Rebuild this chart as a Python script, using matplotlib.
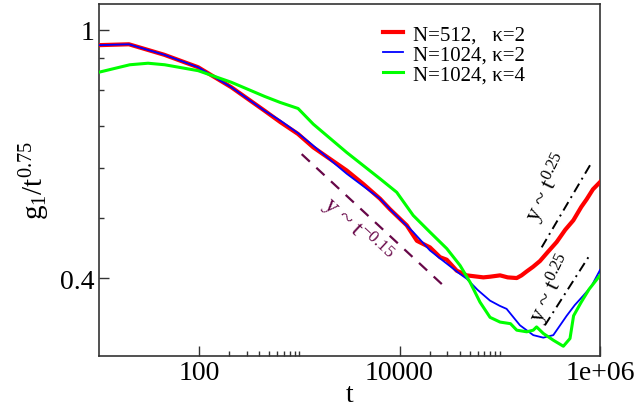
import matplotlib
matplotlib.use("Agg")
import matplotlib.pyplot as plt
from matplotlib.ticker import FixedLocator, FixedFormatter, NullFormatter

plt.rcParams['font.family'] = ['Liberation Serif', 'DejaVu Serif']
plt.rcParams['mathtext.fontset'] = 'custom'
plt.rcParams['mathtext.rm'] = 'Liberation Serif'
plt.rcParams['mathtext.it'] = 'Liberation Serif:italic'
plt.rcParams['mathtext.bf'] = 'Liberation Serif:bold'

# ---- data ----
red_t = [10, 20, 45, 98, 210, 450, 650, 970, 1380, 2970, 4350, 6400, 8000, 11800,
         14900, 20100, 25400, 29600, 37200, 46800, 68600, 80000, 100700, 120000,
         147700, 165000, 186000, 215000, 252000, 300000, 370000, 450000, 542000,
         650000, 736000, 850000, 1000000]
red_y = [0.945, 0.948, 0.912, 0.871, 0.809, 0.742, 0.711, 0.681, 0.648, 0.595, 0.566,
         0.536, 0.516, 0.486, 0.459, 0.448, 0.432, 0.428, 0.411, 0.404, 0.401, 0.402,
         0.404, 0.401, 0.400, 0.404, 0.410, 0.417, 0.426, 0.440, 0.457, 0.478, 0.495,
         0.520, 0.535, 0.555, 0.570]

blue_t = [10, 20, 45, 98, 210, 450, 650, 970, 1380, 2970, 6400, 8000, 13700, 20100,
          25400, 40200, 46800, 60000, 80000, 100000, 117000, 159000, 216000, 272000,
          342000, 400000, 465000, 560000, 683000, 820000, 1000000]
blue_y = [0.945, 0.948, 0.912, 0.871, 0.809, 0.742, 0.715, 0.683, 0.652, 0.588, 0.536,
          0.516, 0.474, 0.443, 0.430, 0.406, 0.399, 0.383, 0.368, 0.361, 0.357, 0.336,
          0.324, 0.321, 0.324, 0.336, 0.348, 0.362, 0.375, 0.388, 0.412]

green_t = [10, 20.4, 31, 45.5, 98, 210, 452, 643, 973, 1380, 2970, 6400, 9380, 13700,
           20100, 29600, 40200, 50500, 63500, 80000, 100700, 128000, 147700, 186000,
           216000, 233000, 272000, 342000, 431000, 502000, 545000, 650000, 780000,
           1000000]
green_y = [0.855, 0.879, 0.884, 0.879, 0.860, 0.824, 0.782, 0.765, 0.748, 0.706, 0.636,
           0.577, 0.549, 0.504, 0.474, 0.446, 0.419, 0.394, 0.366, 0.346, 0.340, 0.338,
           0.330, 0.328, 0.330, 0.334, 0.326, 0.318, 0.311, 0.320, 0.348, 0.366, 0.384,
           0.404]

labels = ["N=512,   \u03ba=2", "N=1024, \u03ba=2", "N=1024, \u03ba=4"]

# guide lines (endpoints)
guide_a_t = [1057, 28400]
guide_a_y = [0.632, 0.387]
guide_b_t = [262000, 826000]
guide_b_y = [0.448, 0.613]
guide_c_t = [282000, 766000]
guide_c_y = [0.336, 0.432]

xtick_vals = [100, 10000, 1000000]
xtick_labels = ["100", "10000", "1e+06"]
ytick_vals = [0.4, 1.0]
ytick_labels = ["0.4", "1"]

fig = plt.figure(figsize=(6.36, 4.10), dpi=100)
ax = fig.add_axes([0.1553, 0.1293, 0.7881, 0.8585])

ax.plot(red_t, red_y, color='#ff0000', lw=3.0, label=labels[0], zorder=3)
ax.plot(blue_t, blue_y, color='#0000ff', lw=1.3, label=labels[1], zorder=4)
ax.plot(green_t, green_y, color='#00ff00', lw=2.2, label=labels[2], zorder=5)

purple = '#670748'
ax.plot(guide_a_t, guide_a_y, color=purple, lw=1.6, dashes=(5, 4), zorder=2)
ax.plot(guide_b_t, guide_b_y, color='black', lw=1.4, dashes=(5, 2.5, 1, 2.5), zorder=2)
ax.plot(guide_c_t, guide_c_y, color='black', lw=1.4, dashes=(5, 2.5, 1, 2.5), zorder=2)

ax.text(3770, 0.478, r'y ~ t$^{-0.15}$', color=purple, fontsize=17.5, rotation=-43,
        ha='center', va='center', rotation_mode='anchor')
ax.text(303000, 0.560, r'y ~ t$^{0.25}$', color='black', fontsize=17, rotation=64,
        ha='center', va='center', rotation_mode='anchor')
ax.text(332000, 0.386, r'y ~ t$^{0.25}$', color='black', fontsize=17, rotation=64,
        ha='center', va='center', rotation_mode='anchor')

ax.set_xscale('log')
ax.set_yscale('log')
ax.set_xlim(10, 1e6)
ax.set_ylim(0.3, 1.1)

ax.xaxis.set_major_locator(FixedLocator(xtick_vals))
ax.xaxis.set_major_formatter(FixedFormatter(xtick_labels))
ax.xaxis.set_minor_locator(FixedLocator([200, 300, 400, 500, 600, 700, 800, 900, 1000,
                                         20000, 30000, 40000, 50000, 60000, 70000,
                                         80000, 90000, 100000]))
ax.xaxis.set_minor_formatter(NullFormatter())
ax.yaxis.set_major_locator(FixedLocator(ytick_vals))
ax.yaxis.set_major_formatter(FixedFormatter(ytick_labels))
ax.yaxis.set_minor_locator(FixedLocator([0.5, 0.6, 0.7, 0.8, 0.9]))
ax.yaxis.set_minor_formatter(NullFormatter())

ax.tick_params(which='major', direction='in', length=7, width=1.0, labelsize=20,
               pad=3, color='#333333', top=False, right=False)
ax.tick_params(which='minor', direction='in', length=3.5, width=1.0, color='#333333',
               top=False, right=False)
for s in ax.spines.values():
    s.set_linewidth(1.2)
    s.set_color('#333333')

ax.set_xlabel('t', fontsize=20, labelpad=-2)
ax.set_ylabel(r'g$_1$/t$^{0.75}$', fontsize=21, labelpad=6)

leg = ax.legend(loc='upper left', bbox_to_anchor=(0.559, 0.952), frameon=False,
                fontsize=15, handlelength=0.95, handletextpad=0.5, labelspacing=0.02,
                borderpad=0.2, borderaxespad=0)

fig.savefig('out.png', dpi=100)
